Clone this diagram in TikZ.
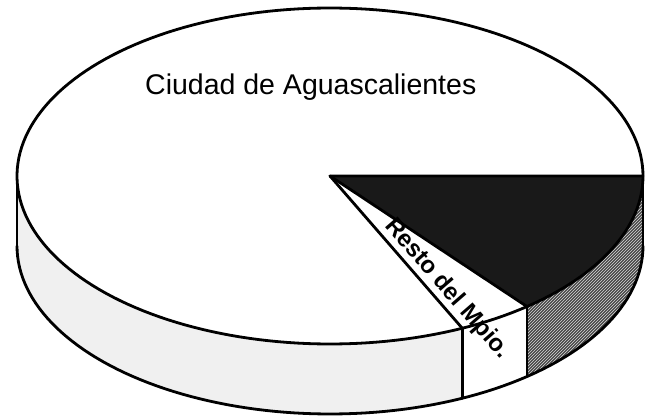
\documentclass[tikz,border=0pt]{standalone}
\usepackage{fontspec}
\setmainfont{Liberation Sans}
\usetikzlibrary{patterns}
\begin{document}
\begin{tikzpicture}[x=1pt,y=-1pt,
  edge/.style={line width=2.8pt, line join=round, line cap=round},
  darktop/.style={fill=black!90},
  darkside/.style={fill=black!72},
  lightside/.style={fill=black!6},
  label/.style={inner sep=0pt, font=\fontsize{28.5}{34}\selectfont}]
\useasboundingbox (0,0) rectangle (645,417);
\def\cx{330}\def\cy{176}\def\rx{313}\def\ry{168}\def\h{70}
\def\ta{51}\def\tb{65}
% side of the large slice
\path[lightside]
  plot[domain=\tb:180, samples=60] ({\cx+\rx*cos(\x)},{\cy+\ry*sin(\x)})
  -- plot[domain=180:\tb, samples=60] ({\cx+\rx*cos(\x)},{\cy+\h+\ry*sin(\x)}) -- cycle;
% side of the small white slice
\path[fill=white]
  plot[domain=\ta:\tb, samples=20] ({\cx+\rx*cos(\x)},{\cy+\ry*sin(\x)})
  -- plot[domain=\tb:\ta, samples=20] ({\cx+\rx*cos(\x)},{\cy+\h+\ry*sin(\x)}) -- cycle;
% side of the dark slice
\path[darkside]
  plot[domain=0:\ta, samples=40] ({\cx+\rx*cos(\x)},{\cy+\ry*sin(\x)})
  -- plot[domain=\ta:0, samples=40] ({\cx+\rx*cos(\x)},{\cy+\h+\ry*sin(\x)}) -- cycle;
\path[pattern=north east lines, pattern color=white!85!black]
  plot[domain=0:\ta, samples=40] ({\cx+\rx*cos(\x)},{\cy+\ry*sin(\x)})
  -- plot[domain=\ta:0, samples=40] ({\cx+\rx*cos(\x)},{\cy+\h+\ry*sin(\x)}) -- cycle;
% top faces
\path[fill=white] (\cx,\cy) -- plot[domain=\tb:360, samples=150] ({\cx+\rx*cos(\x)},{\cy+\ry*sin(\x)}) -- cycle;
\path[darktop] (\cx,\cy) -- plot[domain=0:\ta, samples=40] ({\cx+\rx*cos(\x)},{\cy+\ry*sin(\x)}) -- cycle;
% outlines
\draw[edge] plot[domain=0:360, samples=200] ({\cx+\rx*cos(\x)},{\cy+\ry*sin(\x)});
\draw[edge] plot[domain=0:180, samples=100] ({\cx+\rx*cos(\x)},{\cy+\h+\ry*sin(\x)});
\draw[edge] ({\cx-\rx},\cy) -- ({\cx-\rx},{\cy+\h});
\draw[edge] ({\cx+\rx},\cy) -- ({\cx+\rx},{\cy+\h});
\draw[edge] ({\cx+\rx*cos(\ta)},{\cy+\ry*sin(\ta)}) -- ({\cx+\rx*cos(\ta)},{\cy+\h+\ry*sin(\ta)});
\draw[edge] ({\cx+\rx*cos(\tb)},{\cy+\ry*sin(\tb)}) -- ({\cx+\rx*cos(\tb)},{\cy+\h+\ry*sin(\tb)});
\draw[edge] ({\cx+\rx},\cy) -- (\cx,\cy) -- ({\cx+\rx*cos(\tb)},{\cy+\ry*sin(\tb)});
\draw[edge] (\cx,\cy) -- ({\cx+\rx*cos(\ta)},{\cy+\ry*sin(\ta)});
% labels
\node[label, anchor=base west] (ciudad) at (145,95) {Ciudad de Aguascalientes};
\node[inner sep=0pt, font=\fontsize{24}{28}\selectfont\bfseries, rotate=-49] (resto) at (447,289) {Resto del Mpio.};
\end{tikzpicture}
\end{document}
